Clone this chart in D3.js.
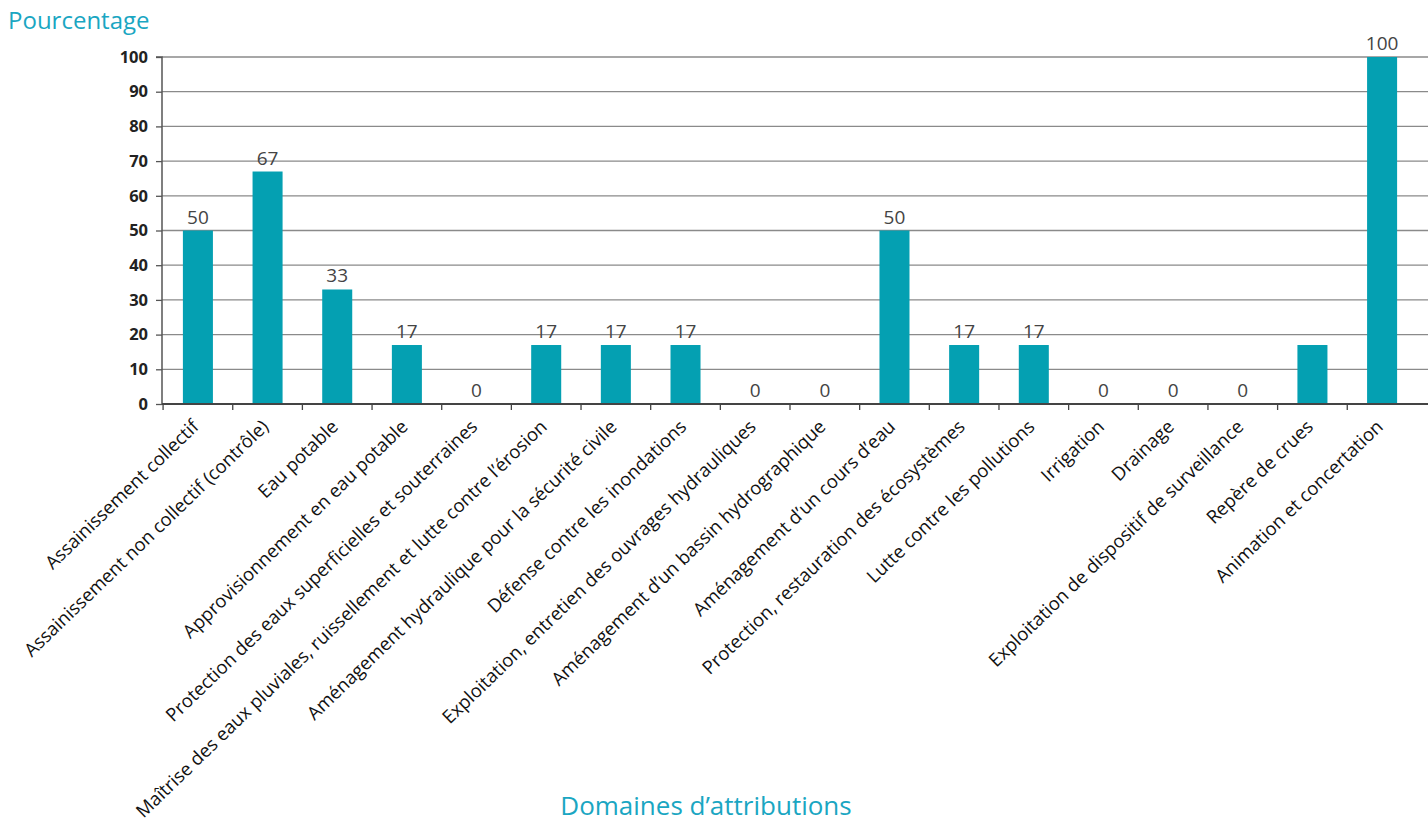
<!DOCTYPE html>
<html><head><meta charset="utf-8">
<script src="https://cdn.jsdelivr.net/npm/d3@7"></script>
<style>body{margin:0;background:#fff;} svg{display:block;}</style>
</head><body>
<svg id="c" width="1428" height="825"></svg>
<script>
const categories = [
 "Assainissement collectif",
 "Assainissement non collectif (contrôle)",
 "Eau potable",
 "Approvisionnement en eau potable",
 "Protection des eaux superficielles et souterraines",
 "Maîtrise des eaux pluviales, ruissellement et lutte contre l’érosion",
 "Aménagement hydraulique pour la sécurité civile",
 "Défense contre les inondations",
 "Exploitation, entretien des ouvrages hydrauliques",
 "Aménagement d’un bassin hydrographique",
 "Aménagement d’un cours d’eau",
 "Protection, restauration des écosystèmes",
 "Lutte contre les pollutions",
 "Irrigation",
 "Drainage",
 "Exploitation de dispositif de surveillance",
 "Repère de crues",
 "Animation et concertation"
];
const values = [50, 67, 33, 17, 0, 17, 17, 17, 0, 0, 50, 17, 17, 0, 0, 0, 17, 100];
const valueLabels = ["50","67","33","17","0","17","17","17","0","0","50","17","17","0","0","0","","100"];
const yTicks = [0,10,20,30,40,50,60,70,80,90,100];

(function(){
const svg = d3.select("#c");
const mLeft = 162, mRight = 1418, gridRight = 1428, mTop = 57, mBottom = 404;
const x = d3.scaleBand().domain(categories).range([mLeft, mRight]).paddingInner(0.569).paddingOuter(0.30);
const y = d3.scaleLinear().domain([0,100]).range([mBottom, mTop]);
const font = "'Open Sans', 'Noto Sans', sans-serif";

// gridlines
svg.append("g").selectAll("line").data(yTicks.filter(d=>d>0)).join("line")
  .attr("x1", mLeft).attr("x2", gridRight)
  .attr("y1", d=>y(d)).attr("y2", d=>y(d))
  .attr("stroke", "#8a8a8a").attr("stroke-width", 1.3);

// bars
svg.append("g").selectAll("rect").data(values).join("rect")
  .attr("x", (d,i)=>x(categories[i]))
  .attr("width", x.bandwidth())
  .attr("y", d=>y(d))
  .attr("height", d=>mBottom - y(d))
  .attr("fill", "#04a0b2");

// y axis
const yAxis = d3.axisLeft(y).tickValues(yTicks).tickSize(6).tickPadding(8);
const gy = svg.append("g").attr("transform", `translate(${mLeft},0)`).call(yAxis);
gy.select(".domain").attr("stroke", "#555").attr("stroke-width", 1.5).attr("d", `M-6,${mTop}H0V${mBottom}`);
gy.selectAll(".tick line").attr("stroke", "#555").attr("stroke-width", 1.3);
gy.selectAll(".tick text").attr("font-family", font).attr("font-size", 16.5).attr("font-weight", "bold").attr("fill", "#222");

// x axis baseline and ticks between categories
svg.append("line").attr("x1", mLeft).attr("x2", gridRight).attr("y1", mBottom).attr("y2", mBottom)
  .attr("stroke", "#444").attr("stroke-width", 1.8);
const step = x.step();
svg.append("g").selectAll("line").data(categories).join("line")
  .attr("x1", d => x(d) + x.bandwidth()/2 - step/2)
  .attr("x2", d => x(d) + x.bandwidth()/2 - step/2)
  .attr("y1", mBottom).attr("y2", mBottom + 6)
  .attr("stroke", "#444").attr("stroke-width", 1.3);

// value labels
svg.append("g").selectAll("text").data(values).join("text")
  .attr("x", (d,i)=>x(categories[i]) + x.bandwidth()/2)
  .attr("y", d=>y(d) - 7)
  .attr("text-anchor", "middle")
  .attr("font-family", font).attr("font-size", 19).attr("fill", "#444")
  .text((d,i)=>valueLabels[i]);

// category labels rotated
svg.append("g").selectAll("text").data(categories).join("text")
  .attr("transform", d => `translate(${x(d) + x.bandwidth()/2 + 2},${mBottom + 24}) rotate(-44)`)
  .attr("text-anchor", "end")
  .attr("font-family", font).attr("font-size", 18.5).attr("font-weight", 500).attr("fill", "#111")
  .text(d=>d);

// titles
svg.append("text").attr("x", 8).attr("y", 29)
  .attr("font-family", font).attr("font-size", 24).attr("fill", "#1aa6c2").text("Pourcentage");
svg.append("text").attr("x", 706).attr("y", 815).attr("text-anchor", "middle")
  .attr("font-family", font).attr("font-size", 26).attr("fill", "#1aa6c2").text("Domaines d’attributions");
})();
</script>
</body></html>
